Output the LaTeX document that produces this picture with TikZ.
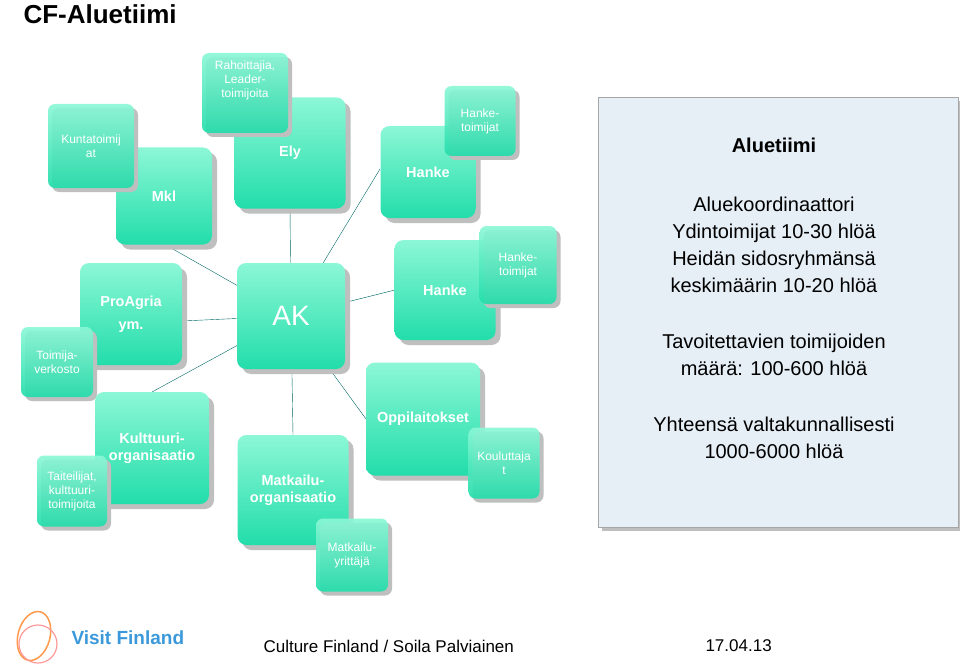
\documentclass[tikz,border=0pt]{standalone}
\usepackage{fontspec}
\setmainfont{Liberation Sans}
\usetikzlibrary{positioning, calc, shadows, shapes.geometric}
\definecolor{tealtop}{HTML}{8CF7D6}
\definecolor{tealbot}{HTML}{22DDAA}
\definecolor{panelfill}{HTML}{E6EEF6}
\tikzstyle{bigbox} = [rectangle, rounded corners=9pt, top color=tealtop, bottom color=tealbot, text=white, font=\bfseries\fontsize{14.5}{17}\selectfont, align=center, drop shadow={shadow xshift=5pt, shadow yshift=-5pt, fill=black!25, opacity=1}]
\tikzstyle{smallbox} = [rectangle, rounded corners=7pt, top color=tealtop, bottom color=tealbot, fill opacity=0.92, text opacity=1, text=white, font=\fontsize{12}{14}\selectfont, align=center, drop shadow={shadow xshift=4pt, shadow yshift=-4pt, fill=black!25, opacity=1}]
\tikzstyle{paneltext} = [font=\fontsize{20}{27}\selectfont, align=center]
\tikzstyle{link} = [draw=teal!80!black, thin]

\begin{document}
\begin{tikzpicture}[x=1pt, y=-1pt]
\useasboundingbox (0,0) rectangle (960,671);

\node (title) [anchor=west, font=\bfseries\fontsize{26}{28}\selectfont] at (20,14) {CF-Aluetiimi};

% center and hubs
\coordinate (akc) at (291,316);
\draw [link] (akc) -- (164,244);
\draw [link] (akc) -- (290,208);
\draw [link] (akc) -- (380,169);
\draw [link] (akc) -- (395,290);
\draw [link] (akc) -- (182,321);
\draw [link] (akc) -- (152,392);
\draw [link] (akc) -- (293,435);
\draw [link] (akc) -- (366,419);

\node (ely) [bigbox, minimum width=111pt, minimum height=111pt] at (290,153) {Ely};
\node (rah) [smallbox, minimum width=86pt, minimum height=80pt] at (245,93) {Rahoittajia,\\Leader-\\toimijoita\\[14pt]};
\node (mkl) [bigbox, minimum width=96pt, minimum height=97pt] at (164,196) {Mkl};
\node (kunta) [smallbox, minimum width=86pt, minimum height=84pt] at (91,146) {Kuntatoimij\\at};
\node (hanke1) [bigbox, minimum width=95pt, minimum height=92pt] at (428,172) {Hanke};
\node (htoim1) [smallbox, minimum width=71pt, minimum height=70pt] at (480,121) {Hanke-\\toimijat};
\node (hanke2) [bigbox, minimum width=101pt, minimum height=100pt] at (445,290) {Hanke};
\node (htoim2) [smallbox, minimum width=77pt, minimum height=78pt] at (518,265) {Hanke-\\toimijat};
\node (ak) [bigbox, minimum width=108pt, minimum height=106pt, font=\fontsize{28}{30}\selectfont] at (akc) {AK};
\node (proagria) [bigbox, minimum width=102pt, minimum height=102pt] at (131,314) {ProAgria\\[6pt]ym.};
\node (verkosto) [smallbox, minimum width=72pt, minimum height=70pt] at (57,362) {Toimija-\\verkosto};
\node (kult) [bigbox, minimum width=114pt, minimum height=112pt] at (152,448) {Kulttuuri-\\organisaatio};
\node (taiteilijat) [smallbox, minimum width=70pt, minimum height=71pt] at (72,491) {Taiteilijat,\\kulttuuri-\\toimijoita};
\node (matk) [bigbox, minimum width=111pt, minimum height=110pt] at (293,490) {Matkailu-\\organisaatio};
\node (myritt) [smallbox, minimum width=72pt, minimum height=73pt] at (352,555) {Matkailu-\\yrittäjä};
\node (oppi) [bigbox, minimum width=114pt, minimum height=113pt] at (423,419) {Oppilaitokset};
\node (koul) [smallbox, minimum width=71pt, minimum height=71pt] at (504,463) {Kouluttaja\\t};

% right panel
\node (panel) [rectangle, draw=black!35, fill=panelfill, minimum width=360pt, minimum height=430pt, anchor=north west, drop shadow={shadow xshift=4pt, shadow yshift=-4pt, fill=black!25, opacity=1}] at (598,97) {};
\node (aluetiimi) [font=\bfseries\fontsize{20}{22}\selectfont] at (774,145) {Aluetiimi};
\node (panelmid) [paneltext] at (774,245) {Aluekoordinaattori\\Ydintoimijat 10-30 hlöä\\Heidän sidosryhmänsä\\keskimäärin 10-20 hlöä};
\node (tavoite) [paneltext] at (774,355) {Tavoitettavien toimijoiden\\määrä: 100-600 hlöä};
\node (yht) [paneltext] at (774,438) {Yhteensä valtakunnallisesti\\1000-6000 hlöä};

% footer
\node (logo) [draw=orange!60!pink, line width=1.5pt, ellipse, minimum width=32pt, minimum height=50pt, rotate=-15] at (34,636) {};
\node (logo2) [draw=pink!80!red, line width=1.2pt, circle, minimum size=38pt] at (38,644) {};
\node (visit) [anchor=west, text=cyan!70!blue!80, font=\bfseries\fontsize{19}{20}\selectfont] at (68,638) {Visit Finland};
\node (footer) [anchor=west, font=\fontsize{17}{19}\selectfont] at (260,646) {Culture Finland / Soila Palviainen};
\node (date) [anchor=west, font=\fontsize{17}{19}\selectfont] at (702,646) {17.04.13};
\end{tikzpicture}
\end{document}
